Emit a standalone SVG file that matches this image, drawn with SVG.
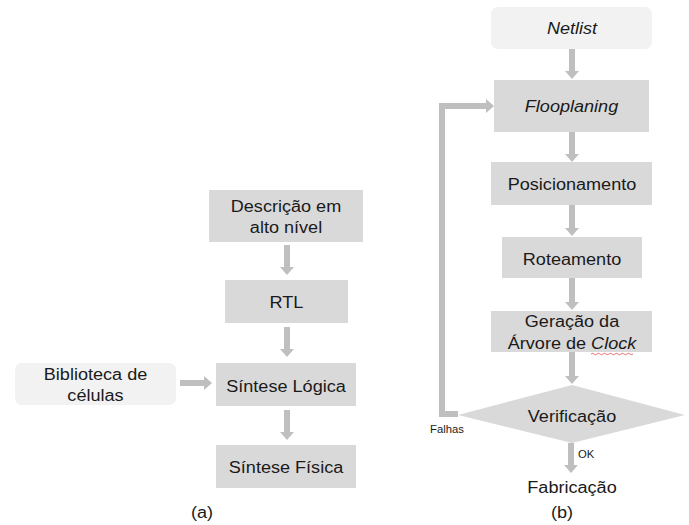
<svg xmlns="http://www.w3.org/2000/svg" width="689" height="525" viewBox="0 0 689 525">
<style>
.box{fill:#d9d9d9}
.lbox{fill:#f2f2f2}
.t{font-family:"Liberation Sans",Arial,sans-serif;font-size:16px;fill:#1a1a1a;text-anchor:middle}
.i{font-style:italic}
.s{font-family:"Liberation Sans",Arial,sans-serif;font-size:10px;fill:#1a1a1a}
.c{fill:none;stroke:#bfbfbf;stroke-width:6;marker-end:url(#ah)}
</style>
<defs>
<marker id="ah" markerUnits="userSpaceOnUse" markerWidth="8" markerHeight="14" refX="0" refY="7" orient="auto" viewBox="0 0 8 14">
<path d="M0,0 L8,7 L0,14 z" fill="#bfbfbf"/>
</marker>
</defs>
<rect width="689" height="525" fill="#ffffff"/>
<g id="connectors">
<line class="c" x1="287" y1="245" x2="287" y2="267"/>
<line class="c" x1="287" y1="327" x2="287" y2="349"/>
<line class="c" x1="287" y1="410" x2="287" y2="432"/>
<line class="c" x1="180" y1="383" x2="204" y2="383"/>
<line class="c" x1="572" y1="49" x2="572" y2="71"/>
<line class="c" x1="572" y1="132" x2="572" y2="154"/>
<line class="c" x1="572" y1="205" x2="572" y2="228"/>
<line class="c" x1="572" y1="278" x2="572" y2="302"/>
<line class="c" x1="572" y1="352" x2="572" y2="376"/>
<polyline class="c" points="458,414 442,414 442,106 486,106"/>
<line class="c" x1="571" y1="443" x2="571" y2="465"/>
<text class="s" x="430" y="433" transform="translate(430,0) scale(1.13,1) translate(-430,0)">Falhas</text>
<text class="s" x="578" y="458" transform="translate(578,0) scale(1.13,1) translate(-578,0)">OK</text>
</g>
<g id="descricao">
<rect class="box" x="209" y="190" width="154" height="52"/>
<text class="t" transform="translate(286,212) scale(1.13,1)">Descrição em</text>
<text class="t" transform="translate(286,233) scale(1.13,1)">alto nível</text>
</g>
<g id="rtl">
<rect class="box" x="225" y="280" width="123" height="43"/>
<text class="t" transform="translate(286.5,308) scale(1.13,1)">RTL</text>
</g>
<g id="sintese-logica">
<rect class="box" x="216" y="363" width="140" height="43"/>
<text class="t" transform="translate(286,392) scale(1.13,1)">Síntese Lógica</text>
</g>
<g id="sintese-fisica">
<rect class="box" x="216" y="445" width="140" height="43"/>
<text class="t" transform="translate(286,473) scale(1.13,1)">Síntese Física</text>
</g>
<g id="biblioteca">
<rect class="lbox" x="15" y="363" width="161" height="42" rx="7"/>
<text class="t" transform="translate(95.5,380) scale(1.13,1)">Biblioteca de</text>
<text class="t" transform="translate(95.5,401) scale(1.13,1)">células</text>
</g>
<g id="label-a">
<text class="t" transform="translate(202,518) scale(1.13,1)">(a)</text>
</g>
<g id="netlist">
<rect class="lbox" x="491" y="7" width="161" height="42" rx="7"/>
<text class="t i" transform="translate(572,34) scale(1.13,1)">Netlist</text>
</g>
<g id="flooplaning">
<rect class="box" x="494" y="80" width="155" height="52"/>
<text class="t i" transform="translate(571.5,112) scale(1.13,1)">Flooplaning</text>
</g>
<g id="posicionamento">
<rect class="box" x="491" y="162" width="161" height="43"/>
<text class="t" transform="translate(572,190) scale(1.13,1)">Posicionamento</text>
</g>
<g id="roteamento">
<rect class="box" x="502" y="237" width="140" height="41"/>
<text class="t" transform="translate(572,265) scale(1.13,1)">Roteamento</text>
</g>
<g id="geracao">
<rect class="box" x="491" y="311" width="161" height="41"/>
<text class="t" transform="translate(572,327) scale(1.13,1)">Geração da</text>
<text class="t" transform="translate(572,349) scale(1.13,1)">Árvore de <tspan class="i">Clock</tspan></text>
<path d="M591,354 q1.5,-1.5 3,0 t3,0 t3,0 t3,0 t3,0 t3,0 t3,0 t3,0 t3,0 t3,0 t3,0 t3,0 t3,0 t3,0" fill="none" stroke="#e05050" stroke-width="0.8"/>
</g>
<g id="verificacao">
<polygon class="box" points="458,415 572,385 685,415 572,443"/>
<text class="t" transform="translate(572,422) scale(1.13,1)">Verificação</text>
</g>
<g id="fabricacao">
<text class="t" transform="translate(572,493) scale(1.13,1)">Fabricação</text>
</g>
<g id="label-b">
<text class="t" transform="translate(562,518) scale(1.13,1)">(b)</text>
</g>
</svg>
